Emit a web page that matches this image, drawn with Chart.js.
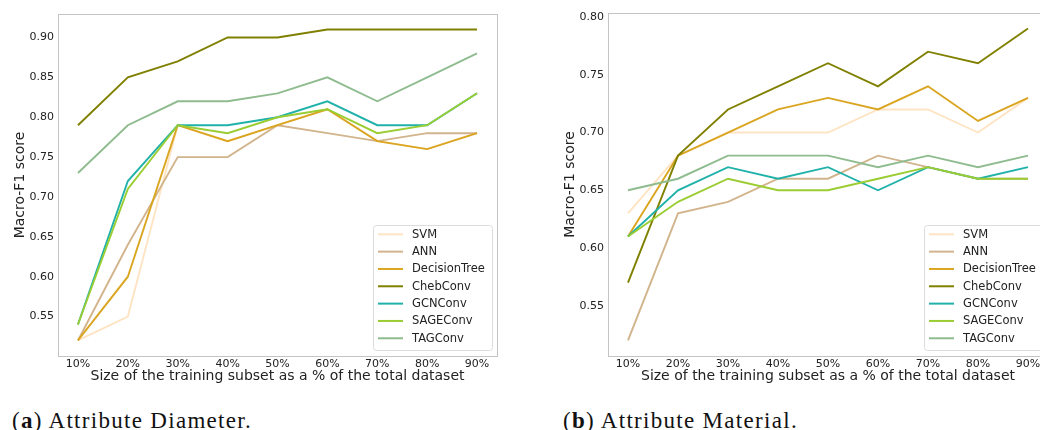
<!DOCTYPE html>
<html>
<head>
<meta charset="utf-8">
<title>Macro-F1 vs training subset size</title>
<script src="https://cdn.jsdelivr.net/npm/chart.js"></script>
<style>
    body {margin: 0; background: #fff; width: 1040px; height: 430px; overflow: hidden; position: relative;}
    .panel {position: absolute; top: 0;}
    .caption {position: absolute; top: 408px; font: 23px "Liberation Serif", serif; letter-spacing: 1.3px; color: #111; white-space: nowrap;}
</style>
</head>
<body>
<div class="panel" style="left: 0px;"><canvas id="chartA" width="520" height="390"></canvas></div>
<div class="panel" style="left: 540px;"><canvas id="chartB" width="520" height="390"></canvas></div>
<div class="caption" style="left: 12px;">(<b>a</b>) Attribute Diameter.</div>
<div class="caption" style="left: 563px;">(<b>b</b>) Attribute Material.</div>

<script>
var sizes = [10, 20, 30, 40, 50, 60, 70, 80, 90];
var models = ['SVM', 'ANN', 'DecisionTree', 'ChebConv', 'GCNConv', 'SAGEConv', 'TAGConv'];
var colors = ['#ffe4c4', '#d2b48c', '#daa520', '#808000', '#20b2aa', '#9acd32', '#8fbc8f'];

// (a) Attribute Diameter
var diaSVM  = [0.52, 0.55, 0.79, 0.77, 0.79, 0.81, 0.77, 0.76, 0.78];
var diaANN  = [0.52, 0.64, 0.75, 0.75, 0.79, 0.78, 0.77, 0.78, 0.78];
var diaDT   = [0.52, 0.60, 0.79, 0.77, 0.79, 0.81, 0.77, 0.76, 0.78];
var diaCheb = [0.79, 0.85, 0.87, 0.90, 0.90, 0.91, 0.91, 0.91, 0.91];
var diaGCN  = [0.54, 0.72, 0.79, 0.79, 0.80, 0.82, 0.79, 0.79, 0.83];
var diaSAGE = [0.54, 0.71, 0.79, 0.78, 0.80, 0.81, 0.78, 0.79, 0.83];
var diaTAG  = [0.73, 0.79, 0.82, 0.82, 0.83, 0.85, 0.82, 0.85, 0.88];
var diaTicks = [0.55, 0.60, 0.65, 0.70, 0.75, 0.80, 0.85, 0.90];

// (b) Attribute Material
var matSVM  = [0.63, 0.68, 0.70, 0.70, 0.70, 0.72, 0.72, 0.70, 0.73];
var matANN  = [0.52, 0.63, 0.64, 0.66, 0.66, 0.68, 0.67, 0.66, 0.66];
var matDT   = [0.61, 0.68, 0.70, 0.72, 0.73, 0.72, 0.74, 0.71, 0.73];
var matCheb = [0.57, 0.68, 0.72, 0.74, 0.76, 0.74, 0.77, 0.76, 0.79];
var matGCN  = [0.61, 0.65, 0.67, 0.66, 0.67, 0.65, 0.67, 0.66, 0.67];
var matSAGE = [0.61, 0.64, 0.66, 0.65, 0.65, 0.66, 0.67, 0.66, 0.66];
var matTAG  = [0.65, 0.66, 0.68, 0.68, 0.68, 0.67, 0.68, 0.67, 0.68];
var matTicks = [0.55, 0.60, 0.65, 0.70, 0.75, 0.80];

var FONT = 'DejaVu Sans';

// frame round the plot area, like the matplotlib spines
var framePlugin = {
    id: 'frame',
    afterDatasetsDraw: function(chart) {
        var a = chart.chartArea, ctx = chart.ctx;
        ctx.save();
        ctx.strokeStyle = '#c4c4c4';
        ctx.lineWidth = 1;
        ctx.strokeRect(Math.round(a.left) + 0.5, Math.round(a.top) + 0.5,
                       Math.round(a.right - a.left), Math.round(a.bottom - a.top));
        ctx.restore();
    }
};

// legend box in the lower right corner of the plot
var boxLegend = {
    id: 'boxLegend',
    afterDraw: function(chart) {
        var a = chart.chartArea, ctx = chart.ctx;
        var w = 119, h = 125;
        var x = a.right - 5 - w, y = a.bottom - 6 - h;
        ctx.save();
        ctx.beginPath();
        ctx.roundRect(x + 0.5, y + 0.5, w, h, 3);
        ctx.fillStyle = 'rgba(255,255,255,0.8)';
        ctx.fill();
        ctx.strokeStyle = '#dcdcdc';
        ctx.lineWidth = 1;
        ctx.stroke();
        ctx.font = '11.5px "' + FONT + '"';
        ctx.textBaseline = 'middle';
        ctx.fillStyle = '#222';
        models.forEach(function(name, i) {
            var cy = y + 9.3 + i * 17.33;
            ctx.beginPath();
            ctx.moveTo(x + 5, cy);
            ctx.lineTo(x + 30, cy);
            ctx.strokeStyle = colors[i];
            ctx.lineWidth = 2;
            ctx.stroke();
            ctx.fillText(name, x + 39, cy + 0.5);
        });
        ctx.restore();
    }
};

function makeChart(id, series, yMin, yMax, yTicks, yAxisW, padTop, padRight, yTitlePad) {
    var datasets = series.map(function(vals, i) {
        return {
            label: models[i],
            data: vals.map(function(v, j) { return {x: sizes[j], y: v}; }),
            borderColor: colors[i],
            backgroundColor: colors[i],
            borderWidth: 1.9,
            pointRadius: 0,
            tension: 0,
            fill: false,
            order: series.length - i   // later series on top
        };
    });

    return new Chart(document.getElementById(id), {
        type: 'line',
        data: {datasets: datasets},
        options: {
            responsive: false,
            animation: false,
            devicePixelRatio: 1,
            layout: {padding: {top: padTop, right: padRight, left: 0, bottom: 0}},
            plugins: {
                legend: {display: false},
                tooltip: {enabled: false}
            },
            scales: {
                x: {
                    type: 'linear',
                    min: 6, max: 94,
                    grid: {display: false, drawTicks: false, tickLength: 0},
                    border: {display: false},
                    afterBuildTicks: function(s) { s.ticks = sizes.map(function(v) { return {value: v}; }); },
                    afterFit: function(s) { s.height = 34; },
                    ticks: {
                        padding: 2,
                        color: '#222',
                        font: {family: FONT, size: 11},
                        maxRotation: 0,
                        callback: function(v) { return v + '%'; }
                    },
                    title: {
                        display: true,
                        text: 'Size of the training subset as a % of the total dataset',
                        color: '#222',
                        font: {family: FONT, size: 14},
                        padding: {top: 0, bottom: 5}
                    }
                },
                y: {
                    type: 'linear',
                    min: yMin, max: yMax,
                    grid: {display: false, drawTicks: false, tickLength: 0},
                    border: {display: false},
                    afterBuildTicks: function(s) { s.ticks = yTicks.map(function(v) { return {value: v}; }); },
                    afterFit: function(s) { s.width = yAxisW; },
                    ticks: {
                        padding: 4,
                        color: '#222',
                        font: {family: FONT, size: 11},
                        callback: function(v) { return v.toFixed(2); }
                    },
                    title: {
                        display: true,
                        text: 'Macro-F1 score',
                        color: '#222',
                        font: {family: FONT, size: 14},
                        padding: {top: yTitlePad, bottom: 0}
                    }
                }
            }
        },
        plugins: [framePlugin, boxLegend]
    });
}

makeChart('chartA', [diaSVM, diaANN, diaDT, diaCheb, diaGCN, diaSAGE, diaTAG],
          0.5005, 0.9295, diaTicks, 58, 14, 23, 12);
makeChart('chartB', [matSVM, matANN, matDT, matCheb, matGCN, matSAGE, matTAG],
          0.5065, 0.8035, matTicks, 68, 13, 12, 21.6);
</script>
</body>
</html>
